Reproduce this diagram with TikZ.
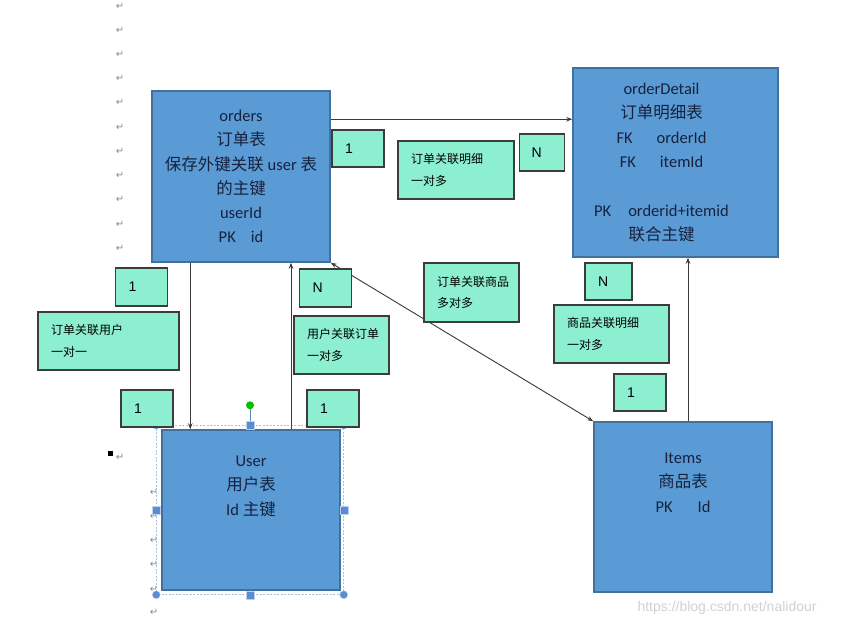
\documentclass[tikz,border=0pt]{standalone}
\usepackage{fontspec}
\setmainfont{Carlito}
\newfontfamily\cjk{Noto Sans CJK SC}
\newfontfamily\dejavu{DejaVu Sans}
\newfontfamily\arial{Liberation Sans}
\usetikzlibrary{arrows.meta, calc}
\definecolor{TblBlue} {HTML}{5B9BD5}
\definecolor{TblEdge} {HTML}{41719C}
\definecolor{TblText} {HTML}{16223D}
\definecolor{Mint}    {HTML}{8CEFCF}
\definecolor{MintEdge}{HTML}{3C3C3C}
\definecolor{Handle}  {HTML}{5B8BD0}
\definecolor{Wire}    {HTML}{3A3A3A}

\begin{document}
\begin{tikzpicture}[x=1pt, y=-1pt,
    >={Stealth[length=6pt,width=4.5pt]},
    tbl/.style={draw=TblEdge, fill=TblBlue, line width=1.5pt, text=TblText, align=center,
                font=\fontsize{16.5}{24.3}\selectfont},
    tbltext/.style={text=TblText, align=center, font=\fontsize{16.5}{24.3}\selectfont},
    rel/.style={draw=MintEdge, fill=Mint, line width=1.1pt, inner xsep=13pt, inner ysep=0pt,
                align=left, minimum height=58pt, font=\cjk\fontsize{12}{21.5}\selectfont},
    num/.style={draw=MintEdge, fill=Mint, line width=1.1pt, inner xsep=13pt, inner ysep=0pt,
                text width=26pt, minimum height=37pt, font=\arial\fontsize{14}{16}\selectfont},
    link/.style={draw=Wire, line width=0.9pt, ->},
    handlebox/.style={draw=white!60!Handle, fill=Handle, minimum size=8pt, inner sep=0pt},
    retmark/.style={text=black!45, font=\dejavu\fontsize{10}{10}\selectfont, inner sep=0pt},
  ]
  \useasboundingbox (0,0) rectangle (847,626);
  \fill[white] (0,0) rectangle (847,626);

  % paragraph marks of the page
  \foreach \y in {6,30,54,78,102,127,151,175,199,224,248}
    \node[retmark] at (120,\y) {↵};
  \foreach \y in {492,516,540,564,589,612}
    \node[retmark] at (154,\y) {↵};
  \fill[black] (108,451) rectangle (113,456);
  \node[retmark] at (120,457) {↵};

  % tables
  \node[tbl, minimum width=178pt, minimum height=171pt] (orders) at (241,176.5)
    {orders\\ {\cjk 订单表}\\ {\cjk 保存外键关联} user {\cjk 表}\\ {\cjk 的主键}\\ userId\\ PK\hspace{15pt}id};
  \node[tbl, minimum width=205pt, minimum height=189pt] (detail) at (675.5,162.5) {};
  \node[tbltext] (detailText) at ([xshift=-14pt]detail.center)
    {orderDetail\\ {\cjk 订单明细表}\\ FK\hspace{24pt}orderId\\ FK\hspace{24pt}itemId\\ \mbox{}\\
     PK\hspace{17pt}orderid+itemid\\ {\cjk 联合主键}};
  \node[tbl, minimum width=178pt, minimum height=160pt] (user) at (251,510)
    {User\\ {\cjk 用户表}\\ Id {\cjk 主键}\\ \mbox{}\\ \mbox{}};
  \node[tbl, minimum width=178pt, minimum height=170pt] (items) at (683,507)
    {Items\\ {\cjk 商品表}\\ PK\hspace{25pt}Id\\ \mbox{}\\ \mbox{}};

  % selection frame round User
  \coordinate (selNW) at ($(user.north west)+(-5,-4)$);
  \coordinate (selSE) at ($(user.south east)+(3,4)$);
  \coordinate (selNE) at (selSE |- selNW);
  \coordinate (selSW) at (selNW |- selSE);
  \draw[Handle!55, dash pattern=on 2pt off 1.5pt, line width=0.8pt] (selNW) rectangle (selSE);
  \coordinate (selN) at ($(selNW)!0.5!(selNE)$);
  \coordinate (rot) at ($(selN)+(0,-20)$);
  \draw[Handle, line width=0.8pt] (selN) -- (rot);
  \fill[green!75!black] (rot) circle[radius=4pt];
  \foreach \c in {selNW, selNE, selSW, selSE}
    \filldraw[fill=Handle, draw=white!60!Handle] (\c) circle[radius=4pt];
  \node[handlebox] at (selN) {};
  \node[handlebox] at ($(selSW)!0.5!(selSE)$) {};
  \node[handlebox] at ($(selNW)!0.5!(selSW)$) {};
  \node[handlebox] at ($(selNE)!0.5!(selSE)$) {};

  % connectors
  \draw[link] ([yshift=-29pt]orders.north east) -- ([yshift=-29pt]orders.north east -| detail.west);
  \draw[link] ([xshift=39pt]orders.south west) -- ([xshift=39pt]orders.south west |- user.north);
  \draw[link] ([xshift=40pt]user.north) -- ([xshift=40pt]user.north |- orders.south);
  \draw[link, <->] (orders.south east) -- (items.north west);
  \draw[link] ([xshift=5pt]items.north) -- ([xshift=5pt]items.north |- detail.south);

  % relation labels
  \node[num] (odOne) at (358,148.5) {1};
  \node[rel, text width=90pt] (odRel) at (456,170) {订单关联明细\\一对多};
  \node[num, text width=21pt, inner xsep=12pt] (odMany) at (542,152.5) {N};

  \node[num, minimum height=38pt] (ouOne) at (141.5,287) {1};
  \node[rel, text width=115pt] (ouRel) at (108.5,341) {订单关联用户\\一对一};
  \node[num, minimum height=37pt] (ouOneB) at (147,408.5) {1};

  \node[num, minimum height=38pt] (uoMany) at (325.5,288) {N};
  \node[rel, text width=69pt] (uoRel) at (341.5,345) {用户关联订单\\一对多};
  \node[num] (uoOne) at (333,408.5) {1};

  \node[rel, text width=69pt, minimum height=59pt] (oiRel) at (471.5,292.5) {订单关联商品\\多对多};

  \node[num, text width=21pt] (idMany) at (608.5,281.5) {N};
  \node[rel, text width=89pt] (idRel) at (611.5,334) {商品关联明细\\一对多};
  \node[num] (idOne) at (640,392.5) {1};

  % watermark
  \node[text=black!18, font=\arial\fontsize{14}{14}\selectfont, anchor=west] (mark) at (634,608)
    {https://blog.csdn.net/nalidour};
\end{tikzpicture}
\end{document}
